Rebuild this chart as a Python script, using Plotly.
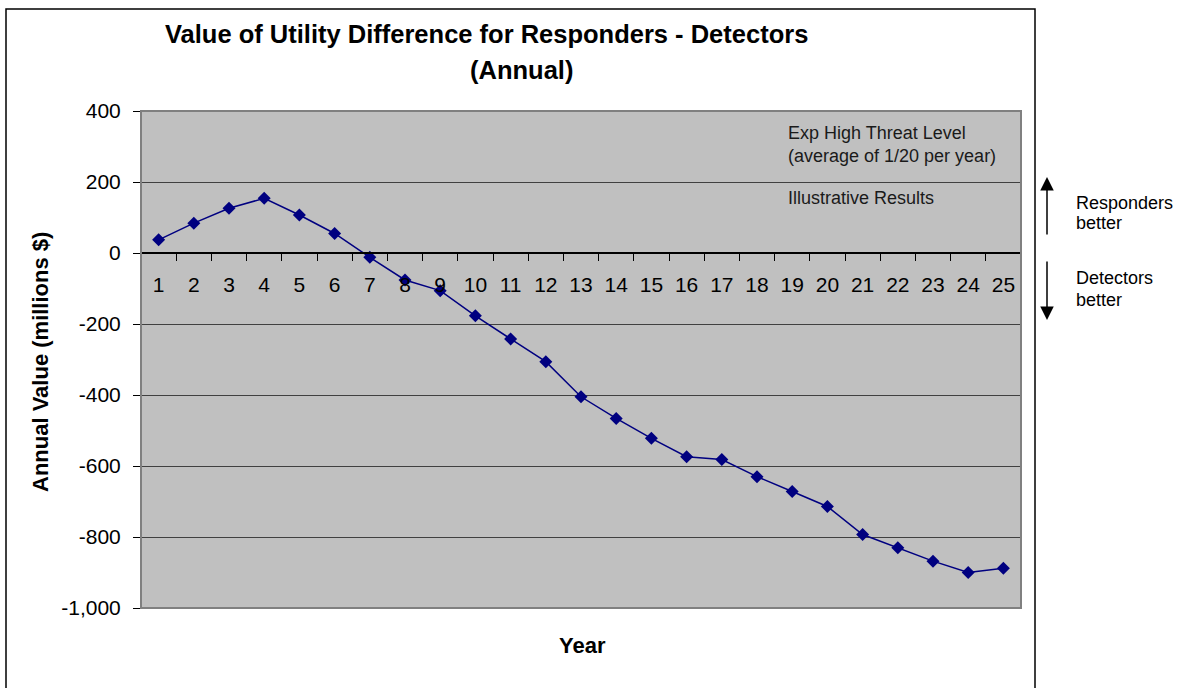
"""Value of Utility Difference chart — Excel-like grey plot area."""

import plotly.graph_objects as go

YEARS = [str(i) for i in range(1, 26)]
ANNUAL_VALUE = [37, 84, 126, 154, 107, 55, -12, -76, -106, -177,
                -242, -306, -405, -466, -522, -574, -582, -630, -672, -714,
                -793, -830, -868, -900, -888]
Y_TICKS = [400, 200, 0, -200, -400, -600, -800, -1000]
Y_TICK_TEXT = ["400", "200", "0", "-200", "-400", "-600", "-800", "-1,000"]

Y_MIN, Y_MAX = -1000, 400
FONT = "Liberation Sans, Arial, sans-serif"
W, H = 1179, 688

# plot area in pixels
L, R, T, B = 141, 1021, 111, 608


def px_x(x):
    return (x - L) / (R - L)


def px_y(y):
    return (B - y) / (B - T)


fig = go.Figure()
fig.add_trace(go.Scatter(
    x=YEARS, y=ANNUAL_VALUE, mode="lines+markers",
    line=dict(color="#000080", width=1.5),
    marker=dict(symbol="diamond", size=10, color="#000080"),
    showlegend=False, hoverinfo="x+y",
))

zero_pos = (0 - Y_MIN) / (Y_MAX - Y_MIN)

fig.update_layout(
    width=W, height=H,
    paper_bgcolor="white", plot_bgcolor="#C0C0C0",
    margin=dict(l=L, r=W - R, t=T, b=H - B),
    font=dict(family=FONT, color="black", size=21),
    xaxis=dict(
        type="category", range=[-0.5, 24.5], anchor="free", position=zero_pos,
        showline=True, linecolor="black", linewidth=1.5,
        ticks="outside", tickson="boundaries", ticklen=7, tickcolor="black",
        ticklabelstandoff=13, showgrid=False, zeroline=False,
        tickfont=dict(size=21),
    ),
    yaxis=dict(
        range=[Y_MIN, Y_MAX], tickvals=Y_TICKS, ticktext=Y_TICK_TEXT,
        ticks="outside", ticklen=7, tickcolor="black", ticklabelstandoff=8,
        showgrid=True, gridcolor="#404040", gridwidth=1,
        zeroline=False, showline=False, tickfont=dict(size=21),
    ),
)

# plot area border and outer chart frame
fig.add_shape(type="rect", xref="paper", yref="paper", x0=0, x1=1, y0=0, y1=1,
              line=dict(color="#808080", width=2), layer="above")
fig.add_shape(type="rect", xref="paper", yref="paper",
              x0=px_x(6), x1=px_x(1035), y0=px_y(710), y1=px_y(9),
              line=dict(color="black", width=1.5))


def label(text, x, y, size, xanchor="center", **kw):
    fig.add_annotation(text=text, xref="paper", yref="paper", x=px_x(x), y=px_y(y),
                       xanchor=xanchor, yanchor="middle", showarrow=False,
                       font=dict(size=size, color=kw.pop("color", "black")), **kw)


# title (two centred lines, as in the original)
label("<b>Value of Utility Difference for Responders - Detectors</b>", 486, 34, 25.5)
label("<b>(Annual)</b>", 521, 70, 25.5)
label("<b>Year</b>", 582, 645, 22)
label("<b>Annual Value (millions $)</b>", 40, 362, 22, textangle=-90)

# notes in the plot area
label("Exp High Threat Level", 786, 133, 18, xanchor="left", color="#1a1a1a")
label("(average of 1/20 per year)", 786, 156, 18, xanchor="left", color="#1a1a1a")
label("Illustrative Results", 786, 198, 18, xanchor="left", color="#1a1a1a")

# side notes with arrows
label("Responders", 1074, 203, 18, xanchor="left")
label("better", 1074, 223, 18, xanchor="left")
label("Detectors", 1074, 278, 18, xanchor="left")
label("better", 1074, 300, 18, xanchor="left")

fig.add_annotation(xref="paper", yref="paper", x=px_x(1047), y=px_y(177),
                   ax=0, ay=59, showarrow=True, arrowhead=2, arrowsize=1.8,
                   arrowwidth=1.5, arrowcolor="black", text="")
fig.add_annotation(xref="paper", yref="paper", x=px_x(1047), y=px_y(320),
                   ax=0, ay=-60, showarrow=True, arrowhead=2, arrowsize=1.8,
                   arrowwidth=1.5, arrowcolor="black", text="")

fig.write_html("out.html", config={"displayModeBar": False},
               post_script="document.body.style.margin='0';")
